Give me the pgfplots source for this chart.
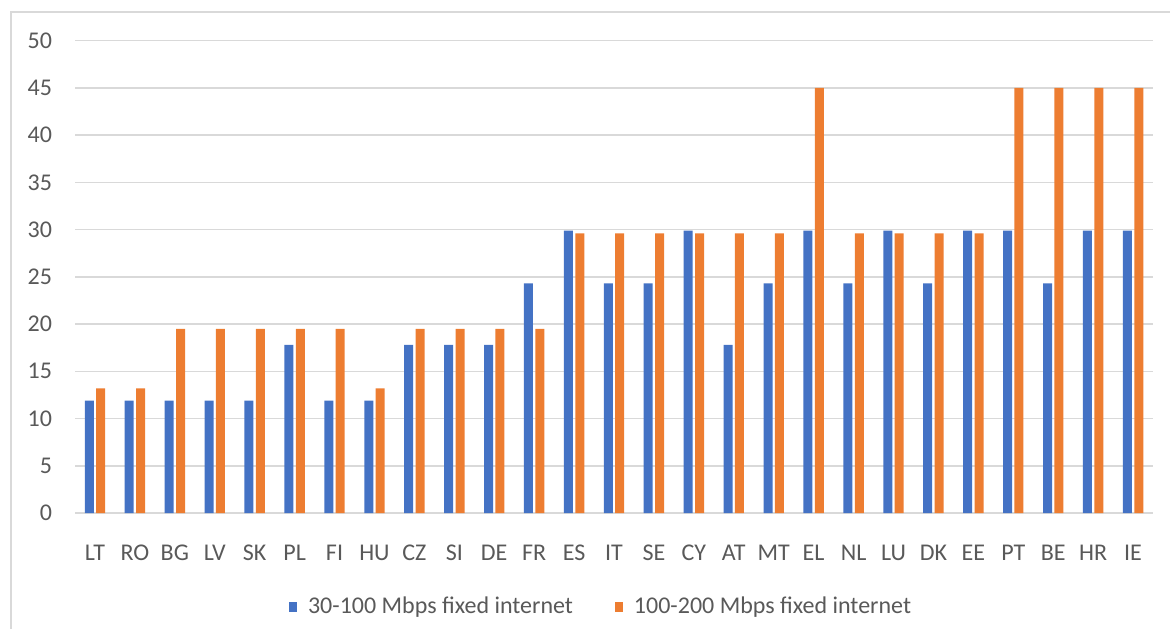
\documentclass[border=0pt]{standalone}
\usepackage{fontspec}
\setmainfont{Carlito}
\usepackage{pgfplots}
\pgfplotsset{compat=1.18}
\definecolor{cblue}{HTML}{4472C4}
\definecolor{corange}{HTML}{ED7D31}
\definecolor{cgrid}{HTML}{D9D9D9}
\definecolor{ctext}{HTML}{595959}
\begin{document}
\fontsize{12}{14}\selectfont
\begin{tikzpicture}
\useasboundingbox (0,0) rectangle (585pt,314pt);
\draw[cgrid, line width=0.75pt] (5.5pt,-5pt) -- (5.5pt,308pt) -- (590pt,308pt);
\begin{axis}[
  at={(37.5pt,57.5pt)}, anchor=south west,
  scale only axis, width=539pt, height=236.15pt,
  ybar=1.2pt, bar width=4.5pt,
  xmin=-0.5, xmax=26.5, ymin=0, ymax=50,
  ytick={0,5,...,50},
  xtick={0,...,26},
  xticklabels={LT,RO,BG,LV,SK,PL,FI,HU,CZ,SI,DE,FR,ES,IT,SE,CY,AT,MT,EL,NL,LU,DK,EE,PT,BE,HR,IE},
  axis line style={draw=none}, tick style={draw=none},
  ymajorgrids, major grid style={draw=cgrid, line width=0.75pt},
  /pgf/number format/assume math mode=true,
  ticklabel style={font=\fontsize{12}{14}\selectfont, text=ctext, inner sep=0pt},
  yticklabel style={anchor=east, xshift=-11.3pt},
  xticklabel style={anchor=base, yshift=-19.5pt},
  legend columns=2,
  legend style={at={(0.488,-0.199)}, anchor=center, draw=none, fill=none,
    font=\fontsize{12}{14}\selectfont, text=ctext,
    /tikz/every even column/.append style={column sep=20pt},
    /tikz/every odd column/.append style={column sep=4.5pt},
    nodes={inner sep=1pt}},
  legend image code/.code={\fill[#1] (0pt,-2.6pt) rectangle (4pt,2.6pt);},
]
\addplot[fill=cblue, draw=none] coordinates {
(0,11.9) (1,11.9) (2,11.9) (3,11.9) (4,11.9) (5,17.8) (6,11.9) (7,11.9) (8,17.8) (9,17.8)
(10,17.8) (11,24.3) (12,29.9) (13,24.3) (14,24.3) (15,29.9) (16,17.8) (17,24.3) (18,29.9) (19,24.3)
(20,29.9) (21,24.3) (22,29.9) (23,29.9) (24,24.3) (25,29.9) (26,29.9)};
\addplot[fill=corange, draw=none] coordinates {
(0,13.2) (1,13.2) (2,19.5) (3,19.5) (4,19.5) (5,19.5) (6,19.5) (7,13.2) (8,19.5) (9,19.5)
(10,19.5) (11,19.5) (12,29.6) (13,29.6) (14,29.6) (15,29.6) (16,29.6) (17,29.6) (18,45) (19,29.6)
(20,29.6) (21,29.6) (22,29.6) (23,45) (24,45) (25,45) (26,45)};
\legend{30-100 Mbps fixed internet, 100-200 Mbps fixed internet}
\end{axis}
\end{tikzpicture}
\end{document}
